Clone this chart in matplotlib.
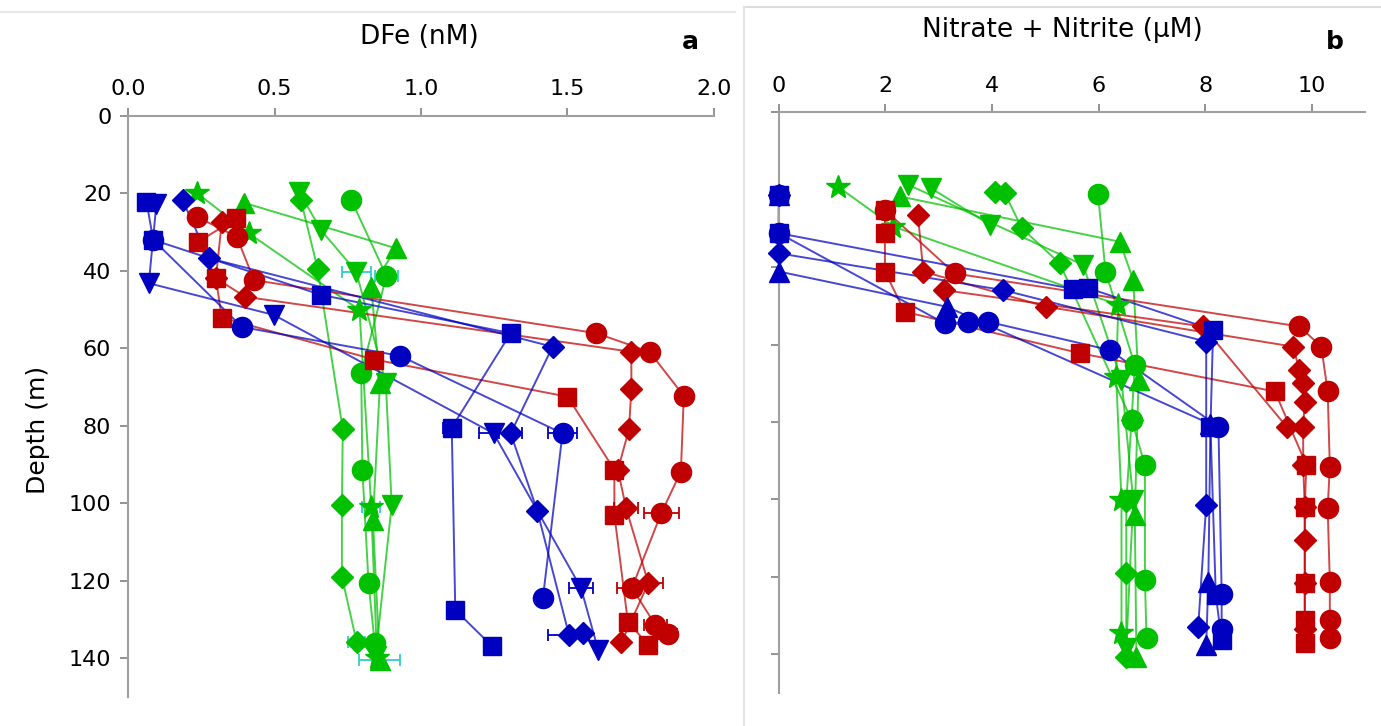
import matplotlib
matplotlib.use("Agg")
import matplotlib.pyplot as plt
from matplotlib.lines import Line2D

# ---- panel a : DFe (nM) vs depth (m) ----
a_red_circle_x = [0.234, 0.371, 0.43, 1.598, 1.78, 1.897, 1.887, 1.82, 1.72, 1.80, 1.844]
a_red_circle_z = [26.0, 31.2, 42.4, 56.1, 60.9, 72.3, 91.9, 102.6, 121.9, 131.5, 133.8]
a_red_circle_e = [0, 0, 0, 0, 0, 0, 0, 0.06, 0.05, 0.04, 0.03]
a_red_diamond_x = [0.32, 0.30, 0.40, 1.718, 1.718, 1.71, 1.672, 1.70, 1.776, 1.684]
a_red_diamond_z = [27.4, 41.9, 46.7, 60.9, 70.6, 80.9, 91.4, 101.3, 120.7, 136.0]
a_red_diamond_e = [0, 0, 0, 0, 0, 0, 0, 0.04, 0.05, 0]
a_red_square_x = [0.37, 0.24, 0.30, 0.32, 0.84, 1.50, 1.66, 1.66, 1.706, 1.776]
a_red_square_z = [26.4, 32.5, 41.9, 52.1, 62.9, 72.5, 91.4, 103.0, 130.6, 136.7]

a_blue_square_x = [0.063, 0.086, 0.659, 1.306, 1.105, 1.117, 1.243]
a_blue_square_z = [22.1, 32.0, 46.2, 56.1, 80.5, 127.6, 137.0]
a_blue_square_e = [0, 0, 0, 0, 0.03, 0, 0]
a_blue_diamond_x = [0.186, 0.275, 1.449, 1.306, 1.397, 1.505, 1.552]
a_blue_diamond_z = [21.7, 36.7, 59.6, 82.0, 102.0, 134.0, 133.6]
a_blue_diamond_e = [0, 0, 0, 0.04, 0, 0.07, 0]
a_blue_circle_x = [0.086, 0.389, 0.93, 1.483, 1.416]
a_blue_circle_z = [32.0, 54.5, 62.0, 82.0, 124.6]
a_blue_circle_e = [0, 0, 0, 0.05, 0]
a_blue_vtri_x = [0.097, 0.071, 0.498, 1.248, 1.546, 1.605]
a_blue_vtri_z = [22.6, 43.2, 51.4, 82.0, 121.9, 138.0]
a_blue_vtri_e = [0, 0, 0, 0.05, 0.04, 0]

a_green_star_x = [0.234, 0.412, 0.79, 0.83, 0.85]
a_green_star_z = [19.8, 30.3, 50.1, 100.9, 140.0]
a_green_star_e = [0, 0, 0, 0.03, 0]
a_green_tri_x = [0.395, 0.916, 0.83, 0.86, 0.836, 0.859]
a_green_tri_z = [22.4, 34.2, 44.1, 69.0, 104.4, 140.5]
a_green_tri_e = [0, 0, 0, 0, 0, 0.07]
a_green_vtri_x = [0.584, 0.659, 0.779, 0.88, 0.90, 0.845]
a_green_vtri_z = [19.6, 29.5, 40.2, 69.0, 100.5, 139.5]
a_green_vtri_e = [0, 0, 0.05, 0, 0, 0]
a_green_diamond_x = [0.59, 0.647, 0.733, 0.73, 0.73, 0.78]
a_green_diamond_z = [21.7, 39.4, 80.9, 100.5, 119.0, 135.8]
a_green_diamond_e = [0, 0, 0, 0, 0, 0.03]
a_green_circle_x = [0.762, 0.882, 0.796, 0.80, 0.821, 0.842]
a_green_circle_z = [21.7, 41.3, 66.5, 91.4, 120.7, 136.2]
a_green_circle_e = [0, 0.04, 0, 0, 0, 0]

# ---- panel b : nitrate + nitrite (uM) vs depth (m) ----
b_red_circle_x = [1.99, 3.30, 9.77, 10.18, 10.3, 10.34, 10.3, 10.34, 10.34, 10.34]
b_red_circle_z = [25.2, 41.6, 55.3, 60.5, 72.1, 91.5, 102.3, 121.2, 131.1, 135.9]
b_red_diamond_x = [2.61, 2.71, 5.02, 9.65, 9.77, 9.83, 9.87, 9.84, 9.84, 9.87, 9.87, 9.87, 9.87]
b_red_diamond_z = [26.5, 41.1, 50.2, 60.5, 66.5, 69.9, 74.7, 81.2, 91.1, 101.9, 110.5, 121.7, 133.5]
b_red_diamond2_x = [3.09, 7.96, 9.53]
b_red_diamond2_z = [45.9, 55.3, 81.2]
b_red_square_x = [1.99, 1.99, 1.99, 2.36, 5.65, 9.31, 9.9, 9.87, 9.87, 9.87, 9.87]
b_red_square_z = [25.2, 31.1, 41.1, 51.5, 62.2, 72.1, 91.1, 101.9, 121.7, 131.1, 137.2]

b_blue_square_x = [0, 0, 5.52, 5.81, 8.15, 8.10, 8.2, 8.31]
b_blue_square_z = [21.3, 31.2, 45.6, 45.4, 56.2, 81.2, 124.7, 136.3]
b_blue_diamond_x = [0, 0, 4.21, 8.02, 8.02, 7.87]
b_blue_diamond_z = [21.3, 36.4, 45.9, 59.2, 101.4, 132.9]
b_blue_circle_x = [0, 0, 3.11, 3.55, 3.93, 6.21, 8.25, 8.31, 8.31]
b_blue_circle_z = [21.3, 31.2, 54.5, 54.1, 54.1, 61.4, 81.2, 124.3, 133.5]
b_blue_tri_x = [0, 0, 3.15, 8.10, 8.06, 8.02]
b_blue_tri_z = [21.3, 41.1, 50.2, 80.5, 121.2, 137.6]

b_green_star_x = [1.11, 2.15, 6.37, 6.33, 6.43, 6.43]
b_green_star_z = [19.2, 29.5, 49.7, 68.3, 100.1, 134.6]
b_green_tri_x = [2.27, 6.40, 6.65, 6.75, 6.68, 6.71]
b_green_tri_z = [21.7, 33.4, 43.3, 69.1, 104.0, 140.6]
b_green_vtri_x = [2.43, 5.71, 6.43, 6.65, 6.52]
b_green_vtri_z = [18.7, 39.4, 69.1, 100.1, 138.5]
b_green_vtri2_x = [2.86, 3.96]
b_green_vtri2_z = [19.6, 29.0]
b_green_diamond_x = [4.05, 4.24, 4.56, 5.27, 6.62, 6.52, 6.52, 6.52]
b_green_diamond_z = [20.5, 20.9, 29.9, 39.0, 79.5, 100.5, 119.0, 140.6]
b_green_circle_x = [5.99, 6.13, 6.68, 6.62, 6.87, 6.87, 6.9]
b_green_circle_z = [21.1, 41.1, 65.2, 79.5, 91.1, 120.8, 135.9]

RED, BLUE, GREEN = '#C00000', '#0000C0', '#00C000'
ECOL = {RED: RED, BLUE: BLUE, GREEN: '#33CCCC'}
MS = {'o': 14.5, 's': 13.5, 'D': 11, '^': 14.5, 'v': 14.5, '*': 18}

series_a = [
    (a_green_star_x, a_green_star_z, a_green_star_e, GREEN, '*'),
    (a_green_tri_x, a_green_tri_z, a_green_tri_e, GREEN, '^'),
    (a_green_vtri_x, a_green_vtri_z, a_green_vtri_e, GREEN, 'v'),
    (a_green_diamond_x, a_green_diamond_z, a_green_diamond_e, GREEN, 'D'),
    (a_green_circle_x, a_green_circle_z, a_green_circle_e, GREEN, 'o'),
    (a_red_square_x, a_red_square_z, None, RED, 's'),
    (a_red_diamond_x, a_red_diamond_z, a_red_diamond_e, RED, 'D'),
    (a_red_circle_x, a_red_circle_z, a_red_circle_e, RED, 'o'),
    (a_blue_square_x, a_blue_square_z, a_blue_square_e, BLUE, 's'),
    (a_blue_diamond_x, a_blue_diamond_z, a_blue_diamond_e, BLUE, 'D'),
    (a_blue_circle_x, a_blue_circle_z, a_blue_circle_e, BLUE, 'o'),
    (a_blue_vtri_x, a_blue_vtri_z, a_blue_vtri_e, BLUE, 'v'),
]
series_b = [
    (b_green_star_x, b_green_star_z, None, GREEN, '*'),
    (b_green_tri_x, b_green_tri_z, None, GREEN, '^'),
    (b_green_vtri_x, b_green_vtri_z, None, GREEN, 'v'),
    (b_green_vtri2_x, b_green_vtri2_z, None, GREEN, 'v'),
    (b_green_diamond_x, b_green_diamond_z, None, GREEN, 'D'),
    (b_green_circle_x, b_green_circle_z, None, GREEN, 'o'),
    (b_red_square_x, b_red_square_z, None, RED, 's'),
    (b_red_diamond_x, b_red_diamond_z, None, RED, 'D'),
    (b_red_diamond2_x, b_red_diamond2_z, None, RED, 'D'),
    (b_red_circle_x, b_red_circle_z, None, RED, 'o'),
    (b_blue_square_x, b_blue_square_z, None, BLUE, 's'),
    (b_blue_diamond_x, b_blue_diamond_z, None, BLUE, 'D'),
    (b_blue_circle_x, b_blue_circle_z, None, BLUE, 'o'),
    (b_blue_tri_x, b_blue_tri_z, None, BLUE, '^'),
]


def draw_panel(ax, series, xmax, xticks, xlabels, ylabels):
    for x, z, e, col, m in series:
        ax.plot(x, z, '-', color=col, lw=1.4, alpha=0.72, zorder=2, clip_on=False)
        if e is not None and any(e):
            ax.errorbar(x, z, xerr=e, fmt='none', ecolor=ECOL[col], elinewidth=1.3,
                        capsize=4, capthick=1.3, zorder=3)
        ax.plot(x, z, linestyle='none', marker=m, ms=MS[m], color=col,
                mec=col, zorder=4, clip_on=False)
    ax.set_xlim(0, xmax)
    ax.set_ylim(150, 0)
    for s in ['right', 'bottom']:
        ax.spines[s].set_visible(False)
    for s in ['top', 'left']:
        ax.spines[s].set_color('#A0A0A0')
        ax.spines[s].set_linewidth(1.5)
    ax.xaxis.tick_top()
    ax.set_xticks(xticks)
    ax.set_xticklabels(xlabels)
    ax.set_yticks(range(0, 141, 20))
    if ylabels:
        ax.set_yticklabels([str(v) for v in range(0, 141, 20)])
    else:
        ax.set_yticklabels([])
    ax.tick_params(axis='both', direction='out', length=6, width=1.2,
                   color='#808080', labelsize=16, pad=6)


fig = plt.figure(figsize=(13.81, 7.26), dpi=100)
ax_a = fig.add_axes([0.0927, 0.0404, 0.4243, 0.7998])
ax_b = fig.add_axes([0.564, 0.0455, 0.4244, 0.7996])

draw_panel(ax_a, series_a, 2.0, [0, 0.5, 1.0, 1.5, 2.0],
           ['0.0', '0.5', '1.0', '1.5', '2.0'], True)
draw_panel(ax_b, series_b, 11.0, [0, 2, 4, 6, 8, 10],
           ['0', '2', '4', '6', '8', '10'], False)

fig.text(0.304, 0.949, 'DFe (nM)', ha='center', va='center', fontsize=19)
fig.text(0.4996, 0.942, 'a', ha='center', va='center', fontsize=18, fontweight='bold')
fig.text(0.769, 0.959, 'Nitrate + Nitrite (µM)', ha='center', va='center', fontsize=19)
fig.text(0.9667, 0.942, 'b', ha='center', va='center', fontsize=18, fontweight='bold')
fig.text(0.0275, 0.408, 'Depth (m)', ha='center', va='center', fontsize=18, rotation=90)

# faint borders of the two pasted panels
fig.add_artist(Line2D([0, 0.532], [0.984, 0.984], color='#E8E8E8', lw=1.5))
fig.add_artist(Line2D([0.539, 1], [0.990, 0.990], color='#DDDDDD', lw=1.5))
fig.add_artist(Line2D([0.539, 0.539], [0, 0.990], color='#E4E4E4', lw=1.5))

fig.savefig('out.png', dpi=100)
